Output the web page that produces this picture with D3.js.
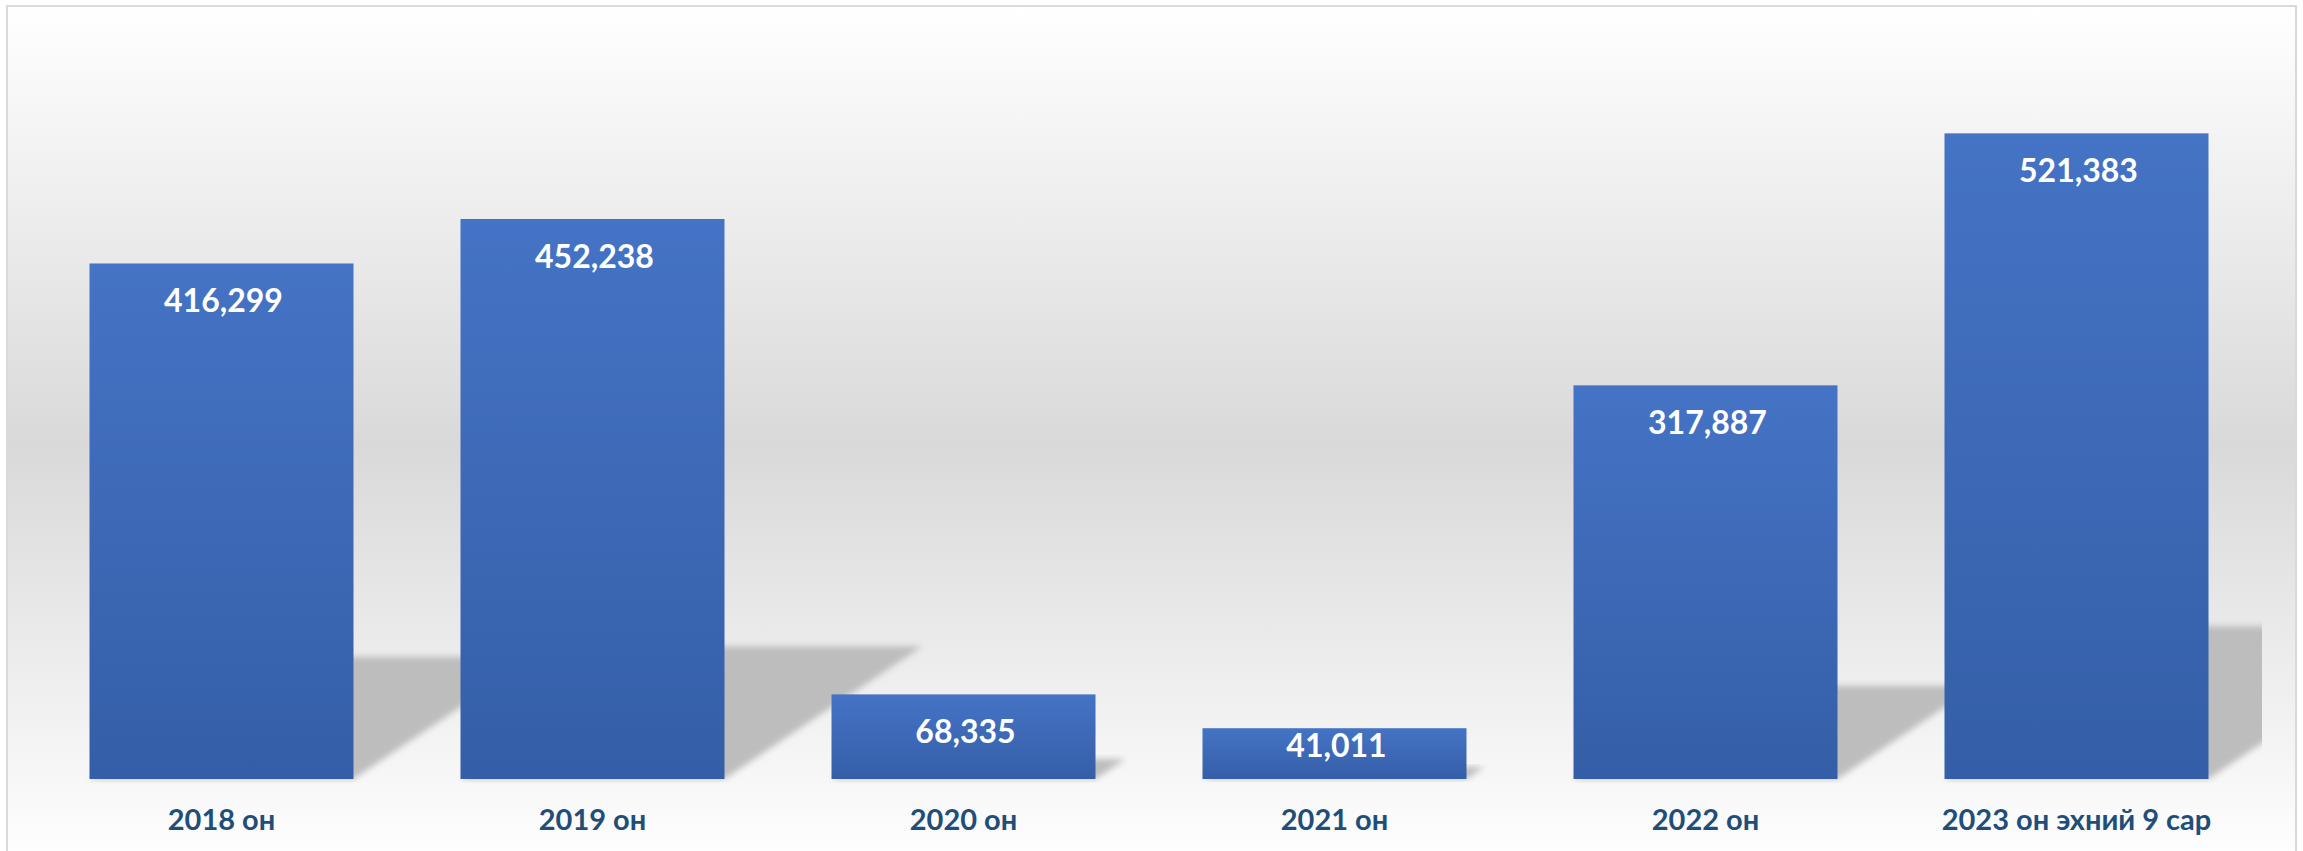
<!DOCTYPE html>
<html>
<head>
<meta charset="utf-8">
<script src="https://cdn.jsdelivr.net/npm/d3@7"></script>
<style>
html, body { margin: 0; padding: 0; background: #ffffff; }
svg { display: block; }
</style>
</head>
<body>
<svg id="chart" width="2303" height="851"></svg>
<script>
const categories = ["2018 он", "2019 он", "2020 он", "2021 он", "2022 он", "2023 он эхний 9 сар"];
const values = [416299, 452238, 68335, 41011, 317887, 521383];
const yDomain = [0, 600000];

const W = 2303, H = 851;
const plot = { left: 36, right: 2262, top: 36, bottom: 779 };

const svg = d3.select("#chart");
const defs = svg.append("defs");

const bg = defs.append("linearGradient").attr("id", "bgGrad")
  .attr("x1", 0).attr("y1", 0).attr("x2", 0).attr("y2", 1);
bg.append("stop").attr("offset", "0%").attr("stop-color", "#ffffff");
bg.append("stop").attr("offset", "51%").attr("stop-color", "#d9d9d9");
bg.append("stop").attr("offset", "100%").attr("stop-color", "#ffffff");

const barGrad = defs.append("linearGradient").attr("id", "barGrad")
  .attr("x1", 0).attr("y1", 0).attr("x2", 0).attr("y2", 1);
barGrad.append("stop").attr("offset", "0%").attr("stop-color", "#4573c5");
barGrad.append("stop").attr("offset", "100%").attr("stop-color", "#345ea7");

const blur = defs.append("filter").attr("id", "shBlur")
  .attr("x", "-20%").attr("y", "-20%").attr("width", "140%").attr("height", "140%");
blur.append("feGaussianBlur").attr("stdDeviation", 3);

defs.append("clipPath").attr("id", "plotClip").append("rect")
  .attr("x", plot.left).attr("y", 0)
  .attr("width", plot.right - plot.left).attr("height", plot.bottom + 4);

// chart background and border
svg.append("rect").attr("x", 7).attr("y", 6).attr("width", W - 14).attr("height", H + 10)
  .attr("fill", "url(#bgGrad)").attr("stroke", "#d9d9d9").attr("stroke-width", 2);

const x = d3.scaleBand().domain(categories)
  .range([plot.left, plot.right]).paddingInner(0.2884).paddingOuter(0.1442);
const y = d3.scaleLinear().domain(yDomain).range([plot.bottom, plot.top]);

const data = categories.map((c, i) => ({ c, v: values[i] }));

// perspective shadows
const shadowG = svg.append("g").attr("clip-path", "url(#plotClip)");
shadowG.selectAll("polygon").data(data).join("polygon")
  .attr("points", d => {
    const x0 = x(d.c), x1 = x(d.c) + x.bandwidth();
    const y0 = y(0);
    const hb = y(0) - y(d.v);
    const h = hb * 0.237;
    const dx = h * 1.49;
    return [[x0, y0], [x1, y0], [x1 + dx, y0 - h], [x0 + dx, y0 - h]].map(p => p.join(",")).join(" ");
  })
  .attr("fill", "#bdbdbd")
  .attr("filter", "url(#shBlur)");

// bars
svg.append("g").selectAll("rect").data(data).join("rect")
  .attr("x", d => x(d.c))
  .attr("y", d => y(d.v))
  .attr("width", x.bandwidth())
  .attr("height", d => y(0) - y(d.v))
  .attr("fill", "url(#barGrad)");

// value labels
const fmt = d3.format(",");
svg.append("g").selectAll("text").data(data).join("text")
  .attr("x", d => x(d.c) + x.bandwidth() / 2 + 2)
  .attr("y", d => Math.min(y(d.v) + 49, y(0) - 22))
  .attr("text-anchor", "middle")
  .attr("font-family", "Lato, 'Noto Sans', sans-serif")
  .attr("font-weight", "bold")
  .attr("font-size", 32)
  .attr("fill", "#ffffff")
  .text(d => fmt(d.v));

// category labels
const xAxis = svg.append("g").attr("transform", `translate(0,${plot.bottom})`)
  .call(d3.axisBottom(x).tickSize(0).tickPadding(0));
xAxis.select(".domain").remove();
xAxis.selectAll("text")
  .attr("y", 51)
  .attr("dy", 0)
  .attr("font-family", "Lato, 'Noto Sans', sans-serif")
  .attr("font-weight", "bold")
  .attr("font-size", 29)
  .attr("fill", "#1f4e79");
</script>
</body>
</html>
